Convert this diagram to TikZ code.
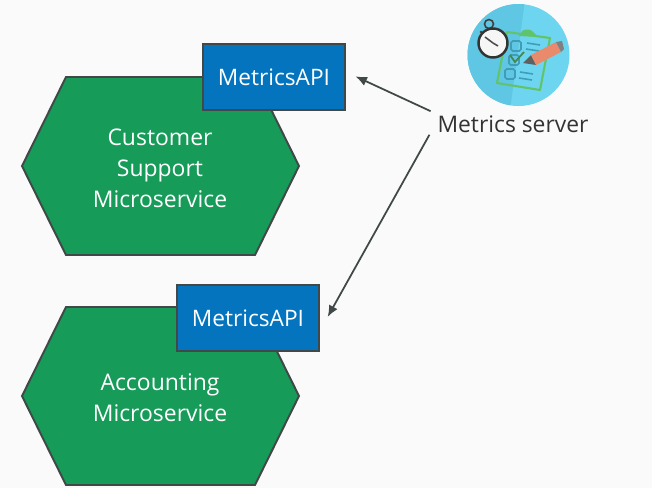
\documentclass[tikz,border=0pt]{standalone}
\usepackage{fontspec}
\usetikzlibrary{arrows.meta}
\setmainfont{Open Sans}
\definecolor{pagegray}{HTML}{FAFAFA}
\definecolor{hexgreen}{HTML}{169B58}
\definecolor{apiblue}{HTML}{0574BE}
\definecolor{edgegray}{HTML}{404848}
\definecolor{skyblue}{HTML}{6DD5F0}
\definecolor{skydark}{HTML}{5FC6E3}
\definecolor{clipgreen}{HTML}{62C46A}
\definecolor{boxblue}{HTML}{3F9DB8}
\definecolor{pencilred}{HTML}{E98A6D}
\tikzset{
  servicelabel/.style={text=white, align=center, font=\fontsize{13.05}{17.6}\selectfont},
  apibox/.style={draw=edgegray, line width=1.1pt, fill=apiblue, text=white, minimum width=142*0.02cm, minimum height=66*0.02cm, inner sep=0pt, font=\fontsize{12.9}{15}\selectfont},
  hexshape/.style={draw=edgegray, line width=1.1pt, fill=hexgreen, line join=miter},
  metricarrow/.style={-{Latex[length=6.5pt,width=5.5pt]}, draw=edgegray, line width=1pt}
}
\begin{document}
\begin{tikzpicture}[x=0.02cm,y=-0.02cm]
     \useasboundingbox (0,0) rectangle (652,488);
     \fill[pagegray] (0,0) rectangle (652,488);
     % hexagons
     \draw[hexshape] (22,166) -- (66,77) -- (255,77) -- (299,166) -- (255,255) -- (66,255) -- cycle;
     \draw[hexshape] (22,396) -- (66,307) -- (255,307) -- (299,396) -- (255,485) -- (66,485) -- cycle;
     \node[servicelabel] (customer) at (160,168) {Customer\\Support\\Microservice};
     \node[servicelabel] (accounting) at (160,398) {Accounting\\Microservice};
     \node[apibox] (apione) at (274,77) {MetricsAPI};
     \node[apibox] (apitwo) at (248,318) {MetricsAPI};
     \node[font=\fontsize{13}{15}\selectfont, text=black!80, inner sep=1pt] (server) at (513,124) {Metrics server};
     % arrows
     \draw[metricarrow, shorten <=3pt, shorten >=6pt] (server.north west) -- (apione.4);
     \draw[metricarrow, shorten <=7pt, shorten >=9pt] (server.west) -- (apitwo.-10);
     % icon
     \fill[skyblue] (518.5,55) circle (51);
     \begin{scope}
       \clip (518.5,55) circle (51);
       \fill[skydark] (460,0) -- (525,0) -- (510,110) -- (460,110) -- cycle;
     \end{scope}
     \draw[clipgreen, line width=1.2pt, line join=round] (507,32) -- (550,38) -- (540,90) -- (497,83) -- cycle;
     \fill[clipgreen] (519,36) -- (522,31) .. controls (526,28) and (532,29) .. (535,34) -- (538,37) -- cycle;
     \foreach \bx/\by in {516/46,514/60,510/74}
       \draw[boxblue, line width=0.9pt, rounded corners=1pt] (\bx-5,\by-5) rectangle (\bx+5,\by+5);
     \draw[clipgreen!70!black, line width=1pt] (510,55) -- (515,62) -- (524,52);
     \foreach \lx/\ly in {527/43,526/49,520/72,519/78}
       \draw[boxblue, line width=0.9pt] (\lx,\ly) -- (\lx+13,\ly+2);
     \fill[gray!75!black] (523,63) -- (531,55) -- (536,65) -- cycle;
     \fill[pencilred] (531,55) -- (556,42) -- (561,52) -- (536,65) -- cycle;
     \fill[gray] (556,42) -- (562,41) -- (564,49) -- (561,52) -- cycle;
     \draw[black!75, line width=0.9pt] (489,24) circle (4.5);
     \fill[black!75] (481,32) circle (1.3);
     \draw[black!80, fill=white!93!gray, line width=1.4pt] (493,43) circle (14.5);
     \draw[black!70, line width=0.9pt] (493,43) -- (485,37);
     \draw[black!70, line width=0.9pt] (493,43) -- (498,46);
\end{tikzpicture}
\end{document}
